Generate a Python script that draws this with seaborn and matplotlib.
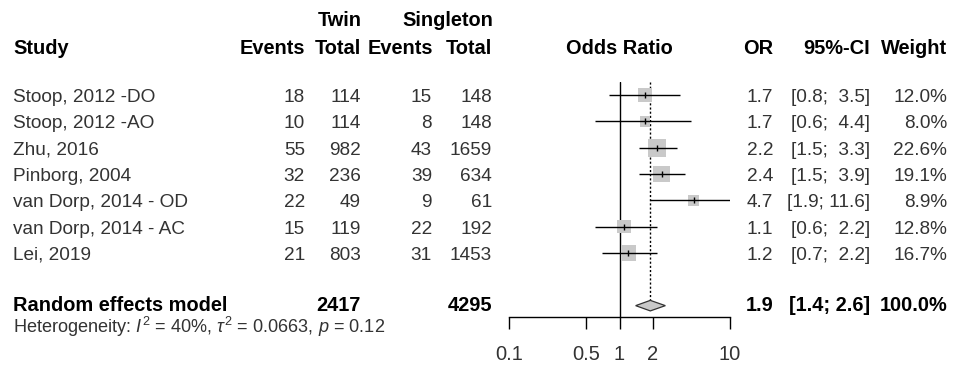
import numpy as np
import pandas as pd
import matplotlib
matplotlib.use("Agg")
import matplotlib.pyplot as plt
import seaborn as sns
from matplotlib.patches import Polygon

# ---------------- data ----------------
studies = ["Stoop, 2012 -DO", "Stoop, 2012 -AO", "Zhu, 2016", "Pinborg, 2004",
           "van Dorp, 2014 - OD", "van Dorp, 2014 - AC", "Lei, 2019"]
twin_events = [18, 10, 55, 32, 22, 15, 21]
twin_total = [114, 114, 982, 236, 49, 119, 803]
single_events = [15, 8, 43, 39, 9, 22, 31]
single_total = [148, 148, 1659, 634, 61, 192, 1453]
odds_ratio = [1.7, 1.7, 2.2, 2.4, 4.7, 1.1, 1.2]
ci_low = [0.8, 0.6, 1.5, 1.5, 1.9, 0.6, 0.7]
ci_high = [3.5, 4.4, 3.3, 3.9, 11.6, 2.2, 2.2]
weights = [12.0, 8.0, 22.6, 19.1, 8.9, 12.8, 16.7]

pooled_label = "Random effects model"
pooled_twin_total = 2417
pooled_single_total = 4295
pooled_or = 1.9
pooled_low = 1.4
pooled_high = 2.6
pooled_weight = 100.0
het_i2 = "40%"
het_tau2 = "0.0663"
het_p = "0.12"

x_ticks = [0.1, 0.5, 1, 2, 10]
x_tick_labels = ["0.1", "0.5", "1", "2", "10"]

# ---------------- style ----------------
sns.set_theme(style="white")
plt.rcParams["font.family"] = ["Liberation Sans", "DejaVu Sans"]
plt.rcParams["mathtext.fontset"] = "custom"
plt.rcParams["mathtext.rm"] = "Liberation Sans"
plt.rcParams["mathtext.it"] = "Liberation Sans:italic"

W, H = 955, 369
fig = plt.figure(figsize=(W / 100, H / 100), dpi=100)
fig.patch.set_facecolor("white")

FS = 13.7
FSB = 14.4
FS_HET = 13.1
TXT = "#333333"

# text layer in pixel coordinates
tax = fig.add_axes([0, 0, 1, 1])
tax.set_xlim(0, W)
tax.set_ylim(H, 0)
tax.axis("off")
tax.patch.set_alpha(0)

row0, dy = 95.0, 26.33
base_off = 7.0

def row_y(i):
    return row0 + dy * i + base_off

hb = dict(va="baseline", fontsize=FSB, fontweight="bold", color="black")
# headers
tax.text(362, 26, "Twin", ha="right", **hb)
tax.text(493, 26, "Singleton", ha="right", **hb)
hy = 54.5
tax.text(13, hy, "Study", ha="left", **hb)
tax.text(305, hy, "Events", ha="right", **hb)
tax.text(361, hy, "Total", ha="right", **hb)
tax.text(433, hy, "Events", ha="right", **hb)
tax.text(492, hy, "Total", ha="right", **hb)
tax.text(619, hy, "Odds Ratio", ha="center", **hb)
tax.text(773, hy, "OR", ha="right", **hb)
tax.text(870, hy, "95%-CI", ha="right", **hb)
tax.text(947, hy, "Weight", ha="right", **hb)

for i, name in enumerate(studies):
    y = row_y(i)
    kw = dict(va="baseline", fontsize=FS, color=TXT)
    tax.text(13, y, name, ha="left", **kw)
    tax.text(305, y, str(twin_events[i]), ha="right", **kw)
    tax.text(361, y, str(twin_total[i]), ha="right", **kw)
    tax.text(432, y, str(single_events[i]), ha="right", **kw)
    tax.text(492, y, str(single_total[i]), ha="right", **kw)
    tax.text(773, y, f"{odds_ratio[i]:.1f}", ha="right", **kw)
    tax.text(870, y, f"[{ci_low[i]:.1f}; {ci_high[i]:4.1f}]", ha="right", **kw)
    tax.text(947, y, f"{weights[i]:.1f}%", ha="right", **kw)

pr = 8
y = 311.0
tax.text(13, y, pooled_label, ha="left", **hb)
tax.text(361, y, str(pooled_twin_total), ha="right", **hb)
tax.text(492, y, str(pooled_single_total), ha="right", **hb)
tax.text(773, y, f"{pooled_or:.1f}", ha="right", **hb)
tax.text(870, y, f"[{pooled_low:.1f}; {pooled_high:.1f}]", ha="right", **hb)
tax.text(947, y, f"{pooled_weight:.1f}%", ha="right", **hb)

tax.text(13, 333,
         "Heterogeneity: $I^2$ = " + het_i2 + r", $\tau^2$ = " + het_tau2 + ", $p$ = " + het_p,
         ha="left", va="baseline", fontsize=FS_HET, color=TXT)

# ---------------- forest axes ----------------
x0, x1 = 509, 730
ytop, ybot = 82, 317
ax = fig.add_axes([x0 / W, (H - ybot) / H, (x1 - x0) / W, (ybot - ytop) / H])
ax.patch.set_alpha(0)
ax.set_xscale("log")
ax.set_xlim(0.1, 10)
ax.set_ylim((ybot - row0) / dy, (ytop - row0) / dy)

df = pd.DataFrame({"study": studies, "or": odds_ratio, "lo": ci_low, "hi": ci_high,
                   "w": weights, "row": np.arange(len(studies))})

k = 7.4
sns.scatterplot(data=df, x="or", y="row", size="w", sizes=(k * min(weights), k * max(weights)),
                size_norm=(min(weights), max(weights)), marker="s", color="#c9c9c9",
                edgecolor="none", linewidth=0, legend=False, ax=ax, zorder=2)
ax.hlines(df["row"], df["lo"], df["hi"], color="black", lw=1.0, zorder=3)
ax.plot(df["or"], df["row"], ls="none", marker="|", ms=5, mew=1.0, color="black", zorder=4)

# reference line at 1 and pooled dotted line
ax.axvline(1, color="black", lw=1.0, zorder=1)
hd = 0.2
ax.vlines(pooled_or, (ytop - row0) / dy, pr - hd, colors="black", lw=1.0,
          linestyles=(0, (1.5, 1.5)), zorder=1)
diamond = Polygon([(pooled_low, pr), (pooled_or, pr - hd), (pooled_high, pr), (pooled_or, pr + hd)],
                  closed=True, facecolor="#c9c9c9", edgecolor="#333333", lw=0.9, zorder=3)
ax.add_patch(diamond)

for s in ["left", "top", "right"]:
    ax.spines[s].set_visible(False)
ax.spines["bottom"].set_color("black")
ax.spines["bottom"].set_linewidth(1.0)
ax.set_xticks(x_ticks)
ax.set_xticklabels(x_tick_labels)
ax.xaxis.set_minor_locator(matplotlib.ticker.NullLocator())
ax.tick_params(axis="x", which="major", direction="out", length=8.6, width=1.0,
               color="black", pad=11.5, labelsize=14.5, labelcolor=TXT, bottom=True)
ax.set_yticks([])
ax.set_xlabel("")
ax.set_ylabel("")
ax.grid(False)

fig.savefig("out.png", dpi=100, facecolor="white")
